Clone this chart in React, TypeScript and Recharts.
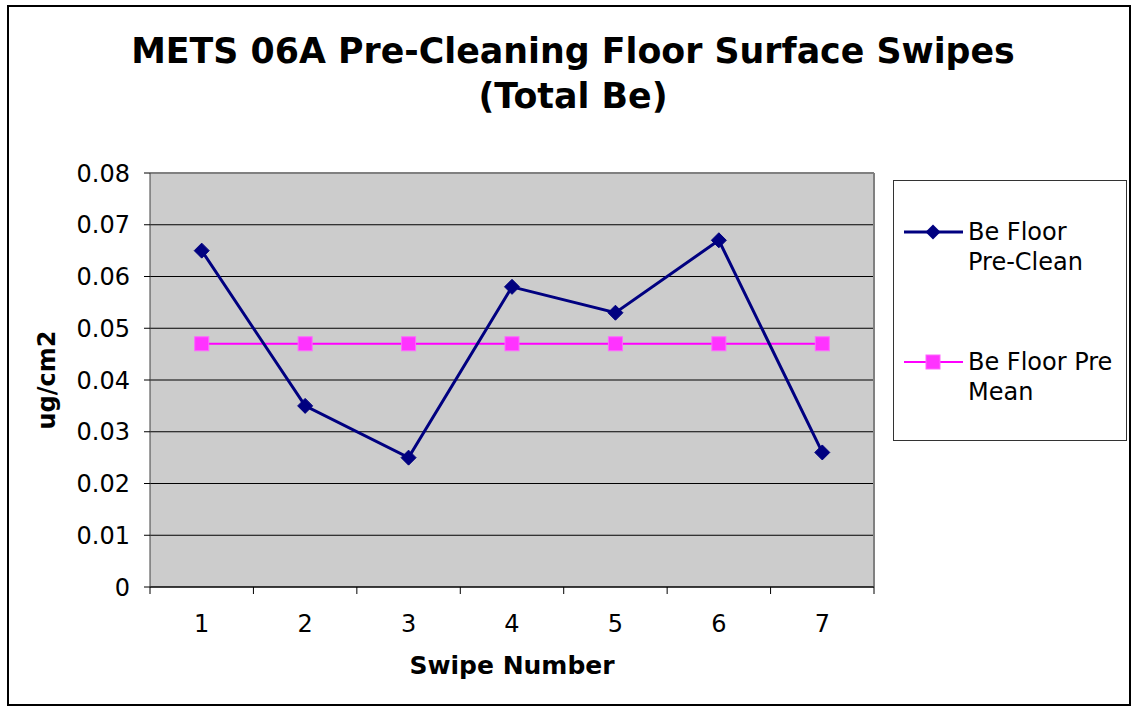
import React from 'react';
import { LineChart, Line, XAxis, YAxis, CartesianGrid, ReferenceLine, Legend } from 'recharts';

const swipes = [1, 2, 3, 4, 5, 6, 7];
const preClean = [0.065, 0.035, 0.025, 0.058, 0.053, 0.067, 0.026];
const preMean = [0.047, 0.047, 0.047, 0.047, 0.047, 0.047, 0.047];
const yTicks = [0, 0.01, 0.02, 0.03, 0.04, 0.05, 0.06, 0.07, 0.08];
const seriesNames = ['Be Floor Pre-Clean', 'Be Floor Pre Mean'];
const legendLines = [['Be Floor', 'Pre-Clean'], ['Be Floor Pre', 'Mean']];

const data = swipes.map((s, i) => ({ swipe: s, preClean: preClean[i], mean: preMean[i] }));
const boundaries = [0.5, ...swipes.map((s) => s + 0.5)];
const xTicks = [...boundaries, ...swipes].sort((a, b) => a - b);

const FONT = '"DejaVu Sans", Verdana, sans-serif';
const NAVY = '#000080';
const MAGENTA = '#ff00ff';

const Diamond = (props: any) => {
  const { cx, cy, index } = props;
  if (cx == null || cy == null) return <g key={`d${index}`} />;
  const r = 7.5;
  return (
    <path key={`d${index}`} d={`M${cx},${cy - r}L${cx + r},${cy}L${cx},${cy + r}L${cx - r},${cy}Z`} fill={NAVY} stroke={NAVY} strokeWidth={1} strokeLinejoin="round" />
  );
};

const Square = (props: any) => {
  const { cx, cy, index } = props;
  if (cx == null || cy == null) return <g key={`s${index}`} />;
  const h = 7;
  return <rect key={`s${index}`} x={cx - h} y={cy - h} width={2 * h} height={2 * h} fill="#ff33ff" stroke="#ff66ff" strokeWidth={1} />;
};

const XTick = (props: any) => {
  const { x, y, payload } = props;
  const v = payload.value;
  if (Number.isInteger(v)) {
    return (
      <text x={x} y={y + 45} textAnchor="middle" fontFamily={FONT} fontSize={24} fill="#000">
        {v}
      </text>
    );
  }
  return <line x1={x} y1={y} x2={x} y2={y + 7} stroke="#000" strokeWidth={1} />;
};

const LegendContent = () => (
  <div style={{ width: 234, height: 261, border: '1px solid #333', boxSizing: 'border-box', background: '#fff', position: 'relative', fontFamily: FONT, fontSize: 24, color: '#000' }}>
    {seriesNames.map((name, i) => {
      const top = i === 0 ? 36 : 166;
      return (
        <div key={name} style={{ position: 'absolute', left: 0, top, width: 234 }}>
          <svg width={60} height={30} style={{ position: 'absolute', left: 10, top: 0 }}>
            <line x1={0} y1={15} x2={59} y2={15} stroke={i === 0 ? NAVY : MAGENTA} strokeWidth={i === 0 ? 3 : 2} />
            {i === 0 ? (
              <path d="M29,7.5L36.5,15L29,22.5L21.5,15Z" fill={NAVY} />
            ) : (
              <rect x={22} y={8} width={14} height={14} fill="#ff33ff" stroke="#ff66ff" />
            )}
          </svg>
          <div style={{ position: 'absolute', left: 74, top: 0, lineHeight: '30px', whiteSpace: 'nowrap' }}>
            <div>{legendLines[i][0]}</div>
            <div>{legendLines[i][1]}</div>
          </div>
        </div>
      );
    })}
  </div>
);

export default function App() {
  return (
    <div style={{ position: 'absolute', left: 0, top: 0, width: 1132, height: 707, background: '#fff', fontFamily: FONT }}>
      <div style={{ position: 'absolute', left: 7, top: 5, width: 1124, height: 701, border: '2px solid #000', boxSizing: 'border-box' }} />
      <div style={{ position: 'absolute', left: 0, top: 29, width: 1146, textAlign: 'center', fontFamily: FONT, fontWeight: 'bold', fontSize: 34.8, lineHeight: '45px', color: '#000' }}>
        <div>METS 06A Pre-Cleaning Floor Surface Swipes</div>
        <div>(Total Be)</div>
      </div>
      <div style={{ position: 'absolute', left: 312, width: 400, top: 651, textAlign: 'center', fontFamily: FONT, fontWeight: 'bold', fontSize: 25, lineHeight: '30px', color: '#000' }}>
        Swipe Number
      </div>
      <div style={{ position: 'absolute', left: 47 - 100, top: 380 - 15, width: 200, textAlign: 'center', fontFamily: FONT, fontWeight: 'bold', fontSize: 24, lineHeight: '30px', color: '#000', transform: 'rotate(-90deg)', transformOrigin: '100px 15px' }}>
        ug/cm2
      </div>
      <div style={{ position: 'absolute', left: 0, top: 0 }}>
        <LineChart width={1132} height={707} data={data} margin={{ top: 173, right: 258, left: 30, bottom: 80 }}>
          <CartesianGrid vertical={false} stroke="#000" strokeOpacity={1} fill="#cccccc" fillOpacity={1} />
          <XAxis
            dataKey="swipe"
            type="number"
            domain={[0.5, 7.5]}
            ticks={xTicks}
            interval={0}
            tickLine={false}
            tickSize={0}
            tickMargin={0}
            tick={<XTick />}
            axisLine={{ stroke: '#000', strokeWidth: 1 }}
            height={40}
            allowDecimals
          />
          <YAxis
            type="number"
            domain={[0, 0.08]}
            ticks={yTicks}
            interval={0}
            width={120}
            tickSize={6}
            tickMargin={14}
            tickLine={{ stroke: '#000' }}
            axisLine={{ stroke: '#404040', strokeWidth: 1 }}
            tickFormatter={(v: number) => (v === 0 ? '0' : v.toFixed(2))}
            tick={{ fontFamily: FONT, fontSize: 24, fill: '#000' }}
          />
          <ReferenceLine y={0.08} stroke="#808080" strokeWidth={2} ifOverflow="extendDomain" />
          <ReferenceLine x={7.5} stroke="#808080" strokeWidth={2} />
          <Line dataKey="mean" name={seriesNames[1]} stroke={MAGENTA} strokeWidth={2} dot={Square} isAnimationActive={false} />
          <Line dataKey="preClean" name={seriesNames[0]} stroke={NAVY} strokeWidth={3} dot={Diamond} isAnimationActive={false} />
          <Legend
            layout="horizontal"
            verticalAlign="middle"
            align="center"
            content={<LegendContent />}
            wrapperStyle={{ position: 'absolute', left: 893, top: 180, width: 234, height: 261 }}
          />
        </LineChart>
      </div>
    </div>
  );
}
